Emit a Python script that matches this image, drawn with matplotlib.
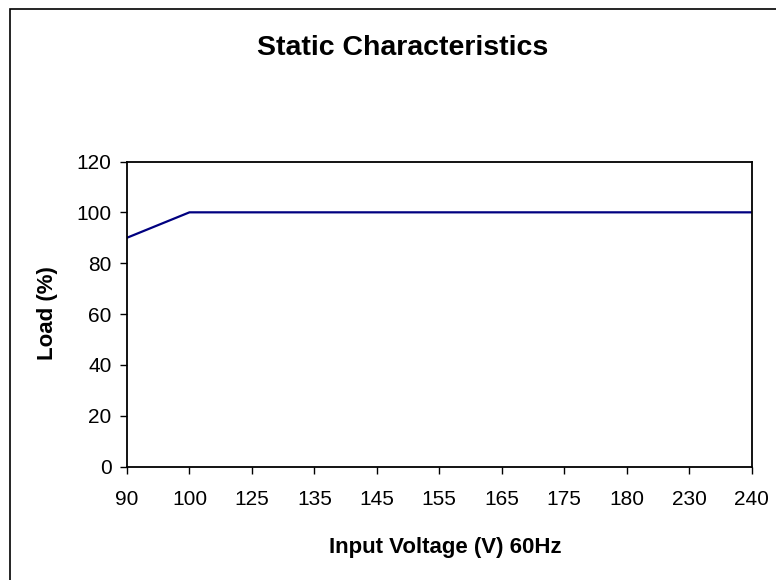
import matplotlib.pyplot as plt
from matplotlib.patches import Rectangle

# 数据
voltage = ['90', '100', '125', '135', '145', '155', '165', '175', '180', '230', '240']
load = [90, 100, 100, 100, 100, 100, 100, 100, 100, 100, 100]
y_ticks = [0, 20, 40, 60, 80, 100, 120]

plt.rcParams['font.family'] = ['Liberation Sans', 'DejaVu Sans']

fig = plt.figure(figsize=(7.76, 5.8), dpi=100)
ax = fig.add_axes([127 / 776, 1 - 466.5 / 580, (751.5 - 127) / 776, (466.5 - 161.5) / 580])

# 外框
fig.patches.append(Rectangle((10 / 776, -0.1), 1.2, 1 - 9 / 580 + 0.1, transform=fig.transFigure,
                             fill=False, edgecolor='black', linewidth=1.2))

x = list(range(len(voltage)))
ax.plot(x, load, color='#000080', linewidth=1.6)

ax.set_xlim(0, len(voltage) - 1)
ax.set_ylim(0, 120)
ax.set_xticks(x)
ax.set_xticklabels(voltage)
ax.set_yticks(y_ticks)
ax.tick_params(direction='out', length=5, width=1, labelsize=15, colors='black')
ax.tick_params(axis='x', pad=12)
ax.tick_params(axis='y', pad=6)
for s in ax.spines.values():
    s.set_linewidth(1.3)

fig.text(445 / 776, 1 - 547 / 580, 'Input Voltage (V) 60Hz', fontsize=16, fontweight='bold',
         ha='center', va='center')
fig.text(47 / 776, 1 - 313 / 580, 'Load (%)', fontsize=16, fontweight='bold',
         ha='center', va='center', rotation=90)
fig.text(403 / 776, 1 - 48 / 580, 'Static Characteristics', fontsize=20.5, fontweight='bold',
         ha='center', va='center')

plt.savefig('out.png', dpi=100)
